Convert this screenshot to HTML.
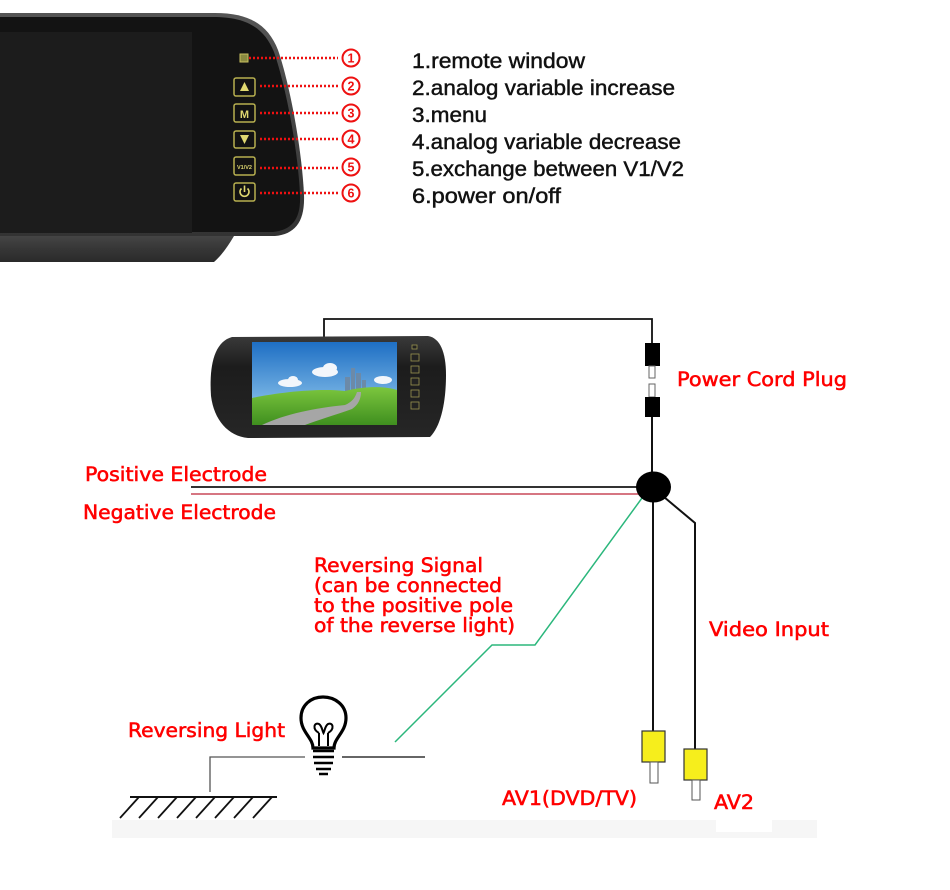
<!DOCTYPE html>
<html><head><meta charset="utf-8"><style>
html,body{margin:0;padding:0;background:#fff;}
svg{display:block;}
.lab{font-family:"DejaVu Sans","Liberation Sans",sans-serif;font-size:19.5px;fill:#ff0000;stroke:#ff0000;stroke-width:0.55px;}
.lst{font-family:"Liberation Sans",sans-serif;font-size:21px;fill:#111;stroke:#111;stroke-width:0.45px;}
</style></head><body>
<svg width="950" height="890" viewBox="0 0 950 890" xmlns="http://www.w3.org/2000/svg">
<defs>
<linearGradient id="rim" x1="0" y1="0" x2="0" y2="1"><stop offset="0" stop-color="#555"/><stop offset="1" stop-color="#333"/></linearGradient>
<linearGradient id="lip" x1="0" y1="0" x2="0" y2="1"><stop offset="0" stop-color="#454545"/><stop offset="0.5" stop-color="#363636"/><stop offset="1" stop-color="#2a2a2a"/></linearGradient>
<linearGradient id="sky" x1="0" y1="0" x2="0" y2="1"><stop offset="0" stop-color="#1e6fc4"/><stop offset="1" stop-color="#9fd2f2"/></linearGradient>
<linearGradient id="grass" x1="0" y1="0" x2="0" y2="1"><stop offset="0" stop-color="#7cc63e"/><stop offset="1" stop-color="#3f8f1f"/></linearGradient>
<linearGradient id="mb" x1="0" y1="0" x2="0" y2="1"><stop offset="0" stop-color="#3a3a3a"/><stop offset="0.3" stop-color="#1c1c1c"/><stop offset="1" stop-color="#262626"/></linearGradient>
</defs>

<!-- Top mirror -->
<path d="M0,13 L215,13 C250,13 268,25 278,50 C290,85 302,150 304,195 C305,222 295,234 275,236 L0,236 Z" fill="url(#rim)"/>
<path d="M0,236 L234,236 C228,246 222,255 214,262 L0,262 Z" fill="url(#lip)"/>
<path d="M0,17 L213,17 C247,17 264,28 274,52 C286,87 298,150 300,195 C301,219 292,230 273,232 L0,232 Z" fill="#131313"/>
<rect x="0" y="32" width="192" height="201" fill="#1c1c1c"/>

<!-- buttons -->
<rect x="240" y="54" width="8" height="8" fill="#8a8a40" stroke="#c8c060" stroke-width="1"/>
<g fill="#121212" stroke="#b8b050" stroke-width="1.5">
<rect x="234" y="78" width="21" height="18" rx="2"/>
<rect x="234" y="104" width="21" height="18" rx="2"/>
<rect x="234" y="131" width="21" height="17" rx="2"/>
<rect x="234" y="157" width="21" height="18" rx="2"/>
<rect x="234" y="183" width="21" height="18" rx="2"/>
</g>
<polygon points="244.5,82 249,91 240,91" fill="#e0d870"/>
<text x="244.5" y="118" text-anchor="middle" font-family="Liberation Sans,sans-serif" font-weight="bold" font-size="11" fill="#e0d870">M</text>
<polygon points="240,135 249,135 244.5,144" fill="#e0d870"/>
<text x="244.5" y="169" text-anchor="middle" font-family="Liberation Sans,sans-serif" font-weight="bold" font-size="5.5" fill="#e0d870">V1/V2</text>
<path d="M241.5,188.5 A4.5,4.5 0 1 0 247.5,188.5" fill="none" stroke="#e0d870" stroke-width="1.6"/>
<line x1="244.5" y1="185.5" x2="244.5" y2="192" stroke="#e0d870" stroke-width="1.6"/>

<!-- dotted lines -->
<g stroke="#ee1111" stroke-width="2.6" stroke-dasharray="2,2">
<line x1="249" y1="58" x2="338" y2="58"/>
<line x1="260" y1="86" x2="338" y2="86"/>
<line x1="260" y1="113" x2="338" y2="113"/>
<line x1="260" y1="139" x2="338" y2="139"/>
<line x1="260" y1="168" x2="338" y2="168"/>
<line x1="260" y1="193" x2="338" y2="193"/>
</g>
<g fill="none" stroke="#ee1111" stroke-width="2">
<circle cx="351" cy="58" r="8.5"/><circle cx="351" cy="86" r="8.5"/><circle cx="351" cy="113" r="8.5"/>
<circle cx="351" cy="139" r="8.5"/><circle cx="351" cy="167" r="8.5"/><circle cx="351" cy="193" r="8.5"/>
</g>
<g font-family="Liberation Sans,sans-serif" font-weight="bold" font-size="12.5" fill="#ee1111" text-anchor="middle">
<text x="351" y="62.5">1</text><text x="351" y="90.5">2</text><text x="351" y="117.5">3</text>
<text x="351" y="143.5">4</text><text x="351" y="171.5">5</text><text x="351" y="197.5">6</text>
</g>

<!-- list -->
<g class="lst">
<text x="412" y="68" textLength="173" lengthAdjust="spacingAndGlyphs">1.remote window</text>
<text x="412" y="95" textLength="263" lengthAdjust="spacingAndGlyphs">2.analog variable increase</text>
<text x="412" y="122" textLength="75" lengthAdjust="spacingAndGlyphs">3.menu</text>
<text x="412" y="149" textLength="269" lengthAdjust="spacingAndGlyphs">4.analog variable decrease</text>
<text x="412" y="176" textLength="272" lengthAdjust="spacingAndGlyphs">5.exchange between V1/V2</text>
<text x="412" y="203" textLength="149" lengthAdjust="spacingAndGlyphs">6.power on/off</text>
</g>

<!-- middle mirror -->
<path d="M324,337 L324,319 L652,319 L652,343" fill="none" stroke="#111" stroke-width="1.8"/>
<path d="M232,337 L428,336 C440,338 446,352 446,375 C446,402 441,426 430,437 L248,438 C228,436 214,420 211,396 C209,366 214,342 232,337 Z" fill="url(#mb)"/>
<rect x="252" y="342" width="145" height="83" fill="url(#sky)"/>
<g fill="#f2f6fb">
<ellipse cx="325" cy="372" rx="13" ry="5"/><ellipse cx="330" cy="368" rx="7" ry="5"/>
<ellipse cx="290" cy="383" rx="12" ry="4"/><ellipse cx="293" cy="380" rx="5" ry="4"/>
<ellipse cx="383" cy="380" rx="9" ry="4"/>
</g>
<g fill="#6c8aa8">
<rect x="345" y="377" width="5" height="15"/><rect x="351" y="368" width="4" height="24"/>
<rect x="356" y="373" width="5" height="19"/><rect x="362" y="380" width="4" height="12"/>
</g>
<path d="M252,398 C280,392 320,388 345,391 C365,386 385,386 397,390 L397,425 L252,425 Z" fill="url(#grass)"/>
<path d="M262,425 C285,414 315,408 345,405 C352,402 355,398 357,392 L361,392 C361,399 358,405 352,409 C335,415 318,420 305,425 Z" fill="#a6a6a6"/>
<g fill="#222" stroke="#9a9450" stroke-width="0.8">
<rect x="412" y="345" width="5" height="4"/>
<rect x="411" y="354" width="8" height="7"/><rect x="411" y="366" width="8" height="7"/>
<rect x="411" y="378" width="8" height="7"/><rect x="411" y="390" width="8" height="7"/><rect x="411" y="402" width="8" height="7"/>
</g>

<!-- power cord plug -->
<rect x="645" y="343" width="15" height="23" fill="#000"/>
<rect x="649" y="366" width="6" height="12" fill="#fff" stroke="#666" stroke-width="1"/>
<rect x="649" y="384" width="6" height="13" fill="#fff" stroke="#666" stroke-width="1"/>
<rect x="645" y="397" width="15" height="20" fill="#000"/>
<line x1="652" y1="417" x2="652" y2="475" stroke="#111" stroke-width="2"/>
<text class="lab" x="677" y="386" textLength="170" lengthAdjust="spacingAndGlyphs">Power Cord Plug</text>

<!-- electrodes -->
<line x1="191" y1="487" x2="645" y2="487" stroke="#333" stroke-width="2"/>
<line x1="191" y1="494" x2="645" y2="494" stroke="#c84858" stroke-width="1.4"/>
<text class="lab" x="85" y="481" textLength="182" lengthAdjust="spacingAndGlyphs">Positive Electrode</text>
<text class="lab" x="83" y="519" textLength="193" lengthAdjust="spacingAndGlyphs">Negative Electrode</text>

<!-- junction and wires -->
<line x1="653" y1="495" x2="653" y2="731" stroke="#111" stroke-width="2"/>
<polyline points="664,497 695,523 695,749" fill="none" stroke="#111" stroke-width="2"/>
<polyline points="642,498 535,645 492,645 395,742" fill="none" stroke="#2bb77c" stroke-width="1.5"/>
<ellipse cx="653.5" cy="487" rx="17.5" ry="15.5" fill="#000"/>

<!-- reversing signal text -->
<g class="lab">
<text x="314" y="572" textLength="169" lengthAdjust="spacingAndGlyphs">Reversing Signal</text>
<text x="314" y="592" textLength="188" lengthAdjust="spacingAndGlyphs">(can be connected</text>
<text x="314" y="612" textLength="199" lengthAdjust="spacingAndGlyphs">to the positive pole</text>
<text x="314" y="632" textLength="201" lengthAdjust="spacingAndGlyphs">of the reverse light)</text>
</g>
<text class="lab" x="709" y="636" textLength="120" lengthAdjust="spacingAndGlyphs">Video Input</text>

<!-- AV connectors -->
<rect x="642" y="731" width="23" height="31" fill="#f6ee1c" stroke="#333" stroke-width="1.2"/>
<rect x="650" y="762" width="8" height="21" fill="#fff" stroke="#555" stroke-width="1"/>
<rect x="684" y="749" width="23" height="31" fill="#f6ee1c" stroke="#333" stroke-width="1.2"/>
<rect x="692" y="780" width="8" height="20" fill="#fff" stroke="#555" stroke-width="1"/>
<text class="lab" x="502" y="805" textLength="135" lengthAdjust="spacingAndGlyphs">AV1(DVD/TV)</text>
<text class="lab" x="714" y="809" textLength="40" lengthAdjust="spacingAndGlyphs">AV2</text>

<!-- bottom band -->
<rect x="112" y="820" width="705" height="18" fill="#f6f6f6"/>
<rect x="716" y="820" width="56" height="12" fill="#fff"/>

<!-- reversing light -->
<text class="lab" x="128" y="737" textLength="157" lengthAdjust="spacingAndGlyphs">Reversing Light</text>
<polyline points="210,792 210,757 305,757" fill="none" stroke="#555" stroke-width="1.3"/>
<line x1="342" y1="757" x2="425" y2="757" stroke="#333" stroke-width="1.5"/>
<path d="M313,748 C313,738 301,732 301,718 C301,705 311,697 323,697 C335,697 346,705 346,718 C346,732 334,738 334,748 Z" fill="#fff" stroke="#000" stroke-width="3.2"/>
<path d="M319,746 L319,733 M328,746 L328,733 M319,733 C312,729 314,722 319,724 C322,726 322,730 323.5,733 C325,730 325,726 328,724 C333,722 335,729 328,733" fill="none" stroke="#000" stroke-width="2"/>
<g stroke="#000" stroke-width="2.5" fill="none">
<line x1="313" y1="751" x2="334" y2="751"/>
<line x1="313" y1="757" x2="334" y2="757"/>
<line x1="314" y1="763" x2="333" y2="763"/>
<line x1="316" y1="769" x2="331" y2="769"/>
<line x1="319" y1="774" x2="328" y2="774"/>
</g>
<line x1="130" y1="797" x2="277" y2="797" stroke="#111" stroke-width="2"/>
<g stroke="#111" stroke-width="1.8">
<line x1="139" y1="797" x2="120" y2="818"/><line x1="158" y1="797" x2="139" y2="818"/>
<line x1="177" y1="797" x2="158" y2="818"/><line x1="196" y1="797" x2="177" y2="818"/>
<line x1="215" y1="797" x2="196" y2="818"/><line x1="234" y1="797" x2="215" y2="818"/>
<line x1="253" y1="797" x2="234" y2="818"/><line x1="272" y1="797" x2="253" y2="818"/>
</g>
</svg>
</body></html>
